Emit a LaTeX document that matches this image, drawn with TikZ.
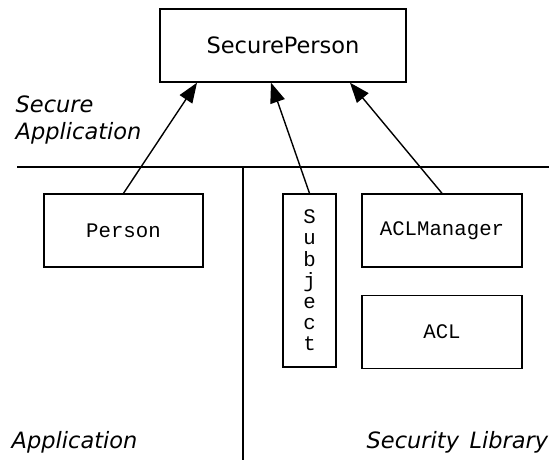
\documentclass[tikz,border=0pt]{standalone}
\usepackage{fontspec}
\setmainfont{DejaVu Sans}
\setmonofont{Liberation Mono}
\usetikzlibrary{arrows.meta, positioning}

\begin{document}
\begin{tikzpicture}[
    x=1pt, y=-1pt,
    line width=1.4pt,
    box/.style={draw, inner sep=0pt, align=center, font=\ttfamily\fontsize{20.7}{21.2}\selectfont},
    layer/.style={font=\itshape\fontsize{22.5}{27}\selectfont, inner sep=0pt},
    arr/.style={-{Triangle[length=20pt, width=15pt]}, line width=1.4pt}
  ]
    \useasboundingbox (0,0) rectangle (549,460);

    % layer borders
    \coordinate (hl) at (17,167);
    \coordinate (hr) at (549,167);
    \coordinate (vb) at (243,460);
    \draw (hl) -- (hr);
    \draw (243,167) -- (vb);

    % classes
    \node[box, font=\fontsize{22.5}{26}\selectfont, minimum width=246pt, minimum height=73pt] (secure) at (283,45.5) {SecurePerson};
    \node[box, minimum width=159pt, minimum height=73pt] (person) at (123.5,230.5) {Person};
    \node[box, minimum width=53pt, minimum height=173pt] (subject) at (309.5,280.5) {S\\u\\b\\j\\e\\c\\t};
    \node[box, minimum width=160pt, minimum height=73pt] (aclmgr) at (442,230.5) {ACLManager};
    \node[box, minimum width=160pt, minimum height=73pt, below=27pt of aclmgr] (acl) {ACL};

    % layer names
    \node[layer, anchor=base west] (secapp) at (15,112) {Secure};
    \node[layer, anchor=base west] (secapp2) at (15,139) {Application};
    \node[layer, anchor=base west] (app) at (11,448) {Application};
    \node[layer, anchor=base west] (sec) at (366,448) {Security};
    \node[layer, anchor=base east] (lib) at (549,448) {Library};

    % dependencies
    \draw[arr] (person.north) -- ([xshift=-86pt]secure.south);
    \draw[arr] (subject.north) -- ([xshift=-12pt]secure.south);
    \draw[arr] (aclmgr.north) -- ([xshift=67pt]secure.south);
  \end{tikzpicture}
\end{document}
